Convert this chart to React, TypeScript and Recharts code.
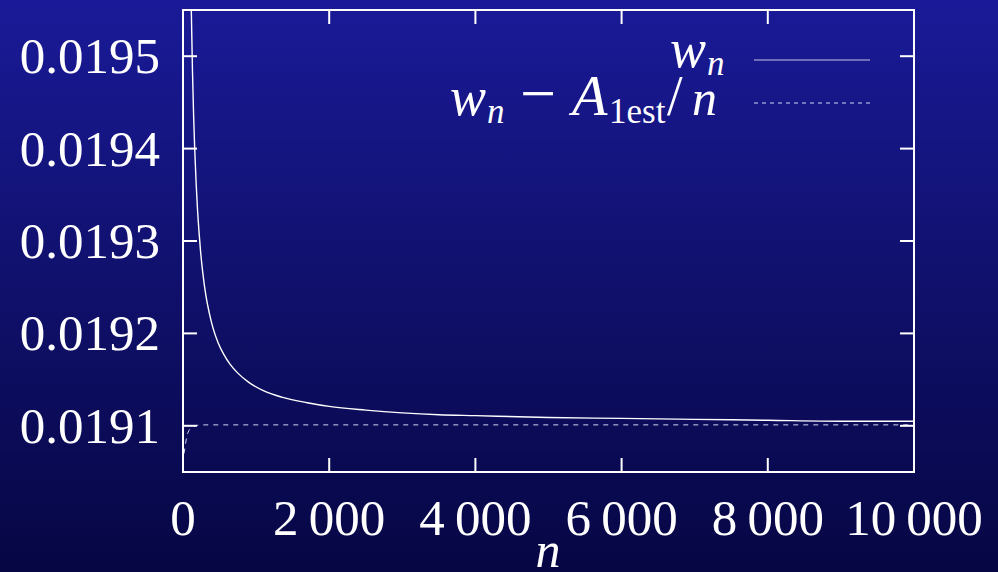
import { Line, LineChart, XAxis, YAxis } from 'recharts'

const W = 998
const H = 572
const PLOT = { left: 183, top: 10, right: 914, bottom: 472 }
const TICK = 14
const FONT = '"Liberation Serif", "DejaVu Serif", serif'

const xTicks = [0, 2000, 4000, 6000, 8000, 10000]
const xTickLabels = ['0', '2\u2009000', '4\u2009000', '6\u2009000', '8\u2009000', '10\u2009000']
const yTicks = [0.0191, 0.0192, 0.0193, 0.0194, 0.0195]
const yTickLabels = ['0.0191', '0.0192', '0.0193', '0.0194', '0.0195']

// w_n
const wnN = [60, 80, 100, 114, 130, 145, 160, 180, 200, 217, 240, 270, 315, 360, 410, 480, 560, 640, 750, 900, 1100, 1350, 1700, 2000, 2500, 3000, 3500, 4000, 5000, 6000, 7000, 8000, 9000, 10000]
const wnValues = [0.01996, 0.0197, 0.019626, 0.019548, 0.019483, 0.019436, 0.0194, 0.019362, 0.019332, 0.019312, 0.019289, 0.019266, 0.01924, 0.019222, 0.019206, 0.01919, 0.019177, 0.019167, 0.019157, 0.019147, 0.019138, 0.019131, 0.019125, 0.019121, 0.019117, 0.019114, 0.019112, 0.019111, 0.019109, 0.019108, 0.019107, 0.019106, 0.019105, 0.019105]

// w_n - A_1est / n
const corrN = [14, 30, 50, 70, 100, 150, 300, 1000, 3000, 6000, 10000]
const corrValues = [0.01907, 0.019078, 0.019088, 0.019093, 0.019097, 0.0191, 0.019101, 0.019101, 0.019101, 0.019101, 0.019101]

const wnData = wnN.map((n, i) => ({ n, v: wnValues[i] }))
const corrData = corrN.map((n, i) => ({ n, v: corrValues[i] }))

function LeftTick(props: any) {
  const { x, y, payload } = props
  const label = yTickLabels[yTicks.indexOf(payload.value)]
  return (
    <g>
      <line x1={x} x2={x + TICK} y1={y} y2={y} stroke="#fff" strokeWidth={2} />
      <line x1={PLOT.right} x2={PLOT.right - TICK} y1={y} y2={y} stroke="#fff" strokeWidth={2} />
      <text x={x - 23} y={y + 17} textAnchor="end" fill="#fff" fontSize={51} fontFamily={FONT}>
        {label}
      </text>
    </g>
  )
}

function BottomTick(props: any) {
  const { x, payload } = props
  const label = xTickLabels[xTicks.indexOf(payload.value)]
  return (
    <g>
      <line x1={x} x2={x} y1={PLOT.bottom} y2={PLOT.bottom - TICK} stroke="#fff" strokeWidth={2} />
      <line x1={x} x2={x} y1={PLOT.top} y2={PLOT.top + TICK} stroke="#fff" strokeWidth={2} />
      <text x={x} y={535} textAnchor="middle" fill="#fff" fontSize={51} fontFamily={FONT}>
        {label}
      </text>
    </g>
  )
}

export default function App() {
  return (
    <div
      style={{
        position: 'fixed',
        left: 0,
        top: 0,
        width: W,
        height: H,
        background: 'linear-gradient(180deg, #1a1a98 0%, #10106c 50%, #060644 100%)',
      }}
    >
      <LineChart width={W} height={H} margin={{ top: PLOT.top, right: W - PLOT.right, left: 0, bottom: 0 }}>
        <XAxis
          dataKey="n"
          type="number"
          domain={[0, 10000]}
          ticks={xTicks}
          height={H - PLOT.bottom}
          tickSize={0}
          tickMargin={0}
          tickLine={false}
          axisLine={false}
          tick={<BottomTick />}
          interval={0}
          allowDataOverflow
        />
        <YAxis
          type="number"
          domain={[0.01905, 0.01955]}
          ticks={yTicks}
          width={PLOT.left}
          tickSize={0}
          tickMargin={0}
          tickLine={false}
          axisLine={false}
          tick={<LeftTick />}
          interval={0}
          allowDataOverflow
        />
        <Line
          data={corrData}
          dataKey="v"
          type="monotone"
          stroke="#d4d4f2"
          strokeWidth={1}
          strokeDasharray="5 5"
          dot={false}
          isAnimationActive={false}
        />
        <Line
          data={wnData}
          dataKey="v"
          type="monotone"
          stroke="#ffffff"
          strokeWidth={1.4}
          dot={false}
          isAnimationActive={false}
        />
      </LineChart>
      <svg width={W} height={H} style={{ position: 'absolute', left: 0, top: 0, pointerEvents: 'none' }}>
        <rect
          x={PLOT.left}
          y={PLOT.top}
          width={PLOT.right - PLOT.left}
          height={PLOT.bottom - PLOT.top}
          fill="none"
          stroke="#fff"
          strokeWidth={2}
        />
        <g fill="#fff" fontFamily={FONT} fontSize={50}>
          <text y={67}>
            <tspan x={670} fontStyle="italic" fontSize={54}>w</tspan>
            <tspan x={707} fontStyle="italic" fontSize={35} dy={8}>n</tspan>
          </text>
          <text y={115}>
            <tspan x={450} fontStyle="italic" fontSize={54}>w</tspan>
            <tspan x={487} fontStyle="italic" fontSize={35} dy={8}>n</tspan>
            <tspan x={520} dy={-8} fontSize={64}>{'\u2212'}</tspan>
            <tspan x={572} fontStyle="italic" fontSize={58}>A</tspan>
            <tspan x={609} fontSize={35} dy={8}>1est</tspan>
            <tspan x={667} dy={-8} fontSize={56}>/</tspan>
            <tspan x={692} fontStyle="italic">n</tspan>
          </text>
          <text x={548} y={567} textAnchor="middle" fontStyle="italic">
            n
          </text>
        </g>
        <line x1={754} x2={870} y1={60} y2={60} stroke="#c4c4ec" strokeWidth={1.2} />
        <line x1={754} x2={870} y1={103} y2={103} stroke="#d4d4f2" strokeWidth={1} strokeDasharray="4 4" />
      </svg>
    </div>
  )
}
